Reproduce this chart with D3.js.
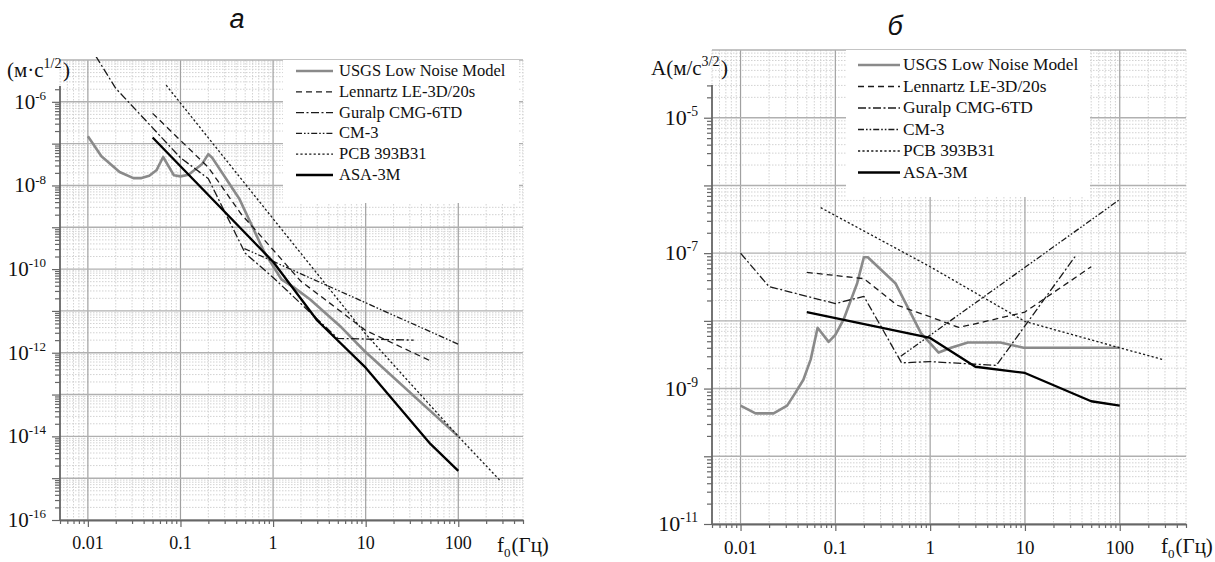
<!DOCTYPE html>
<html>
<head>
<meta charset="utf-8">
<script src="https://cdn.jsdelivr.net/npm/d3@7"></script>
<style>
  body { margin: 0; background: #fff; }
  svg { display: block; }
  svg text { font-family: "Liberation Serif", "Times New Roman", serif; fill: #111; }
  svg text.letter { font-family: "Liberation Sans", Arial, sans-serif; font-style: italic; }
</style>
</head>
<body>
<svg id="chart" width="1215" height="562"></svg>
<script>
// ---- data -------------------------------------------------------------
const seriesNames = ["USGS Low Noise Model", "Lennartz LE-3D/20s", "Guralp CMG-6TD", "CM-3", "PCB 393B31", "ASA-3M"];

// panel а: displacement noise, м·с^1/2  ([frequency Hz, value])
const usgsDisp = [[0.01,1.5e-7],[0.014,5.0e-8],[0.022,2.1e-8],[0.031,1.5e-8],[0.038,1.5e-8],[0.046,1.7e-8],[0.055,2.3e-8],[0.065,4.8e-8],[0.085,1.75e-8],[0.1,1.65e-8],[0.122,1.8e-8],[0.17,3.2e-8],[0.2,5.6e-8],[0.22,4.6e-8],[0.43,4.9e-9],[0.8,2.6e-10],[1.23,5.7e-11],[1.66,3.7e-11],[2.5,1.9e-11],[5.5,4.0e-12],[9.7,1.1e-12],[100,1.0e-14]];
const lennartzDisp = [[0.05,5.3e-7],[0.2,2.7e-8],[0.45,2.1e-9],[1,2.9e-10],[2,5.1e-11],[3.5,2.0e-11],[10,3.4e-12],[50,6.4e-13]];
const guralpDisp = [[0.01,2.5e-5],[0.02,2.1e-6],[0.1,4.6e-8],[0.2,1.45e-8],[0.5,2.4e-10],[1,6.3e-11],[5,2.2e-12],[33,2.0e-12]];
const cm3Disp = [[0.49,3.1e-10],[100,1.6e-12]];
const pcbDisp = [[0.07,2.5e-6],[1,1.6e-9],[10,2.8e-12],[100,1.0e-14],[280,9.0e-16]];
const asaDisp = [[0.05,1.4e-7],[1,1.5e-10],[3,5.9e-12],[10,4.4e-13],[50,6.6e-15],[100,1.5e-15]];

// panel б: acceleration noise, м/с^3/2
const usgsAcc = [[0.01,5.6e-10],[0.0144,4.3e-10],[0.0223,4.3e-10],[0.031,5.6e-10],[0.038,8.7e-10],[0.046,1.35e-9],[0.055,2.7e-9],[0.065,7.9e-9],[0.085,4.9e-9],[0.1,6.2e-9],[0.122,1.04e-8],[0.17,3.6e-8],[0.2,8.7e-8],[0.22,8.7e-8],[0.43,3.6e-8],[0.8,6.6e-9],[1.23,3.4e-9],[1.66,4.0e-9],[2.5,4.8e-9],[5.5,4.8e-9],[9.7,4.0e-9],[100,4.0e-9]];
const lennartzAcc = [[0.05,5.2e-8],[0.2,4.2e-8],[0.45,1.7e-8],[1,1.15e-8],[2,8.0e-9],[3.5,9.5e-9],[10,1.35e-8],[50,6.3e-8]];
const guralpAcc = [[0.01,1.0e-7],[0.02,3.2e-8],[0.1,1.8e-8],[0.2,2.3e-8],[0.5,2.4e-9],[1,2.5e-9],[5,2.2e-9],[34,9.0e-8]];
const cm3Acc = [[0.49,3.0e-9],[100,6.2e-7]];
const pcbAcc = [[0.07,4.7e-7],[1,6.3e-8],[10,9.8e-9],[100,4.0e-9],[280,2.7e-9]];
const asaAcc = [[0.05,1.35e-8],[1,5.6e-9],[3,2.1e-9],[10,1.7e-9],[50,6.5e-10],[100,5.6e-10]];

const freqDomain = [0.005, 500];
const xTickValues = [0.01, 0.1, 1, 10, 100];
const xTickLabels = ["0.01", "0.1", "1", "10", "100"];
const dispTickExp = [-16, -14, -12, -10, -8, -6];
const accTickExp = [-11, -9, -7, -5];

// ---- styles -----------------------------------------------------------
const lineStyles = [
  { stroke: "#8a8a8a", width: 2.6, dash: null },
  { stroke: "#1a1a1a", width: 1.3, dash: "6,4" },
  { stroke: "#1a1a1a", width: 1.3, dash: "8,2.5,2,2.5" },
  { stroke: "#1a1a1a", width: 1.3, dash: "6,2,1.6,2,1.6,2" },
  { stroke: "#1a1a1a", width: 1.3, dash: "2.2,2.2" },
  { stroke: "#000", width: 2.3, dash: null }
];

const svg = d3.select("#chart");

function logSteps([a, b]) {
  const out = [];
  for (let e = Math.floor(Math.log10(a)) - 1; e <= Math.ceil(Math.log10(b)); e++) {
    for (let m = 1; m < 10; m++) {
      const v = +(m + "e" + e);
      if (v >= a * 0.9999 && v <= b * 1.0001) out.push({ v, major: m === 1 });
    }
  }
  return out;
}

function drawPanel(p) {
  const g = svg.append("g");
  const x = d3.scaleLog().domain(freqDomain).range([p.left, p.right]);
  const y = d3.scaleLog().domain(p.yDomain).range([p.bottom, p.top]);
  const xs = logSteps(freqDomain);
  const ys = logSteps(p.yDomain);

  // grid
  const grid = g.append("g");
  grid.selectAll("line.vmin").data(xs.filter(d => !d.major)).join("line")
    .attr("x1", d => x(d.v)).attr("x2", d => x(d.v))
    .attr("y1", p.top).attr("y2", p.bottom)
    .attr("stroke", "#d2d2d2").attr("stroke-width", 1).attr("stroke-dasharray", "1.5,1.5");
  grid.selectAll("line.hmin").data(ys.filter(d => !d.major)).join("line")
    .attr("x1", p.left).attr("x2", p.right)
    .attr("y1", d => y(d.v)).attr("y2", d => y(d.v))
    .attr("stroke", "#d2d2d2").attr("stroke-width", 1).attr("stroke-dasharray", "1.5,1.5");
  grid.selectAll("line.vmaj").data(xs.filter(d => d.major)).join("line")
    .attr("x1", d => x(d.v)).attr("x2", d => x(d.v))
    .attr("y1", p.top).attr("y2", p.bottom)
    .attr("stroke", "#a0a0a0").attr("stroke-width", 1.2);
  grid.selectAll("line.hmaj").data(ys.filter(d => d.major)).join("line")
    .attr("x1", p.left).attr("x2", p.right)
    .attr("y1", d => y(d.v)).attr("y2", d => y(d.v))
    .attr("stroke", "#b0b0b0").attr("stroke-width", 1.4);

  // legend panel sits over the grid
  const L = p.legend;
  g.append("rect").attr("x", L.x).attr("y", L.y).attr("width", L.w).attr("height", L.h).attr("fill", "#fff");

  // curves
  const clipId = "clip" + p.id;
  svg.append("clipPath").attr("id", clipId).append("rect")
    .attr("x", p.left).attr("y", p.top - 3).attr("width", p.right - p.left).attr("height", p.bottom - p.top + 3);
  const line = d3.line().x(d => x(d[0])).y(d => y(d[1]));
  g.append("g").attr("clip-path", `url(#${clipId})`)
    .selectAll("path").data(p.series).join("path")
    .attr("d", d => line(d))
    .attr("fill", "none")
    .attr("stroke", (d, i) => lineStyles[i].stroke)
    .attr("stroke-width", (d, i) => lineStyles[i].width)
    .attr("stroke-dasharray", (d, i) => lineStyles[i].dash)
    .attr("stroke-linejoin", "round");

  // axes (the vertical axis line starts a little below the top of the grid)
  const yTicks = ys.filter(d => y(d.v) >= p.axisTop - 0.5);
  const yAxis = d3.axisLeft(y).tickValues(yTicks.map(d => d.v)).tickFormat("").tickSizeOuter(0);
  const ya = g.append("g").attr("transform", `translate(${p.left},0)`).call(yAxis);
  ya.selectAll(".tick line").attr("x2", (d, i) => yTicks[i].major ? -8 : -5);
  ya.select(".domain").attr("d", `M0,${p.axisTop}V${p.bottom}`);
  const xAxis = d3.axisBottom(x).tickValues(xs.map(d => d.v)).tickFormat("").tickSizeOuter(0);
  const xa = g.append("g").attr("transform", `translate(0,${p.bottom})`).call(xAxis);
  xa.selectAll(".tick line").attr("y2", (d, i) => xs[i].major ? 7 : 4);
  [ya, xa].forEach(a => {
    a.select(".domain").attr("stroke", "#666").attr("stroke-width", 1.8);
    a.selectAll(".tick line").attr("stroke", "#666").attr("stroke-width", 1.2);
  });

  // y tick labels 10^n
  const yl = g.append("g");
  p.yExp.forEach(e => {
    const t = yl.append("text").attr("x", p.left - 14).attr("y", y(+("1e" + e)) + p.yLabelFont * 0.33)
      .attr("text-anchor", "end").style("font-size", p.yLabelFont + "px");
    t.append("tspan").text("10");
    t.append("tspan").attr("dy", -p.yLabelFont * 0.42).style("font-size", (p.yLabelFont * 0.62) + "px").text(String(e));
  });

  // x tick labels
  g.append("g").selectAll("text").data(xTickValues).join("text")
    .attr("x", d => x(d)).attr("y", p.bottom + p.xLabelDy)
    .attr("text-anchor", "middle").style("font-size", p.xLabelFont + "px")
    .text((d, i) => xTickLabels[i]);

  // axis titles
  const xt = g.append("text").attr("x", p.xTitle[0]).attr("y", p.xTitle[1]).style("font-size", "21px");
  xt.append("tspan").text("f");
  xt.append("tspan").attr("dy", 5).style("font-size", "13px").text("0");
  xt.append("tspan").attr("dy", -5).attr("dx", 1).text("(Гц)");

  const yt = g.append("text").attr("x", p.yTitle[0]).attr("y", p.yTitle[1]).style("font-size", "21px");
  yt.append("tspan").text(p.yTitleMain);
  yt.append("tspan").attr("dy", -9).style("font-size", "14px").text(p.yTitleExp);
  yt.append("tspan").attr("dy", 9).attr("dx", 1.5).text(")");

  // panel letter
  g.append("text").attr("class", "letter").attr("x", p.letter[0]).attr("y", p.letter[1])
    .attr("text-anchor", "middle").style("font-size", "27px").text(p.letterText);

  // legend entries
  const lg = g.append("g");
  seriesNames.forEach((name, i) => {
    const by = L.baseline0 + i * L.step;
    const st = lineStyles[i];
    lg.append("line").attr("x1", L.sx0).attr("x2", L.sx1).attr("y1", by - 5).attr("y2", by - 5)
      .attr("stroke", st.stroke).attr("stroke-width", st.width).attr("stroke-dasharray", st.dash);
    lg.append("text").attr("x", L.tx).attr("y", by).style("font-size", L.font + "px").text(name);
  });
}

drawPanel({
  id: "A", left: 60, right: 523, top: 60, bottom: 520, axisTop: 86, yDomain: [1e-16, 1e-5],
  series: [usgsDisp, lennartzDisp, guralpDisp, cm3Disp, pcbDisp, asaDisp],
  yExp: dispTickExp, yLabelFont: 21, xLabelFont: 18, xLabelDy: 29,
  xTitle: [497, 552], yTitle: [7, 77], yTitleMain: "(м·с", yTitleExp: "1/2",
  letter: [237, 28], letterText: "а",
  legend: { x: 283, y: 60, w: 236, h: 143, sx0: 296, sx1: 333, tx: 339, baseline0: 76, step: 20.8, font: 16.5 }
});

drawPanel({
  id: "B", left: 712, right: 1186, top: 50, bottom: 524, axisTop: 85, yDomain: [1e-11, 1e-4],
  series: [usgsAcc, lennartzAcc, guralpAcc, cm3Acc, pcbAcc, asaAcc],
  yExp: accTickExp, yLabelFont: 22, xLabelFont: 19, xLabelDy: 30,
  xTitle: [1161, 553], yTitle: [651, 75], yTitleMain: "A(м/с", yTitleExp: "3/2",
  letter: [895, 35], letterText: "б",
  legend: { x: 846, y: 50, w: 244, h: 147, sx0: 858, sx1: 900, tx: 903, baseline0: 70, step: 21.5, font: 17.4 }
});
</script>
</body>
</html>
